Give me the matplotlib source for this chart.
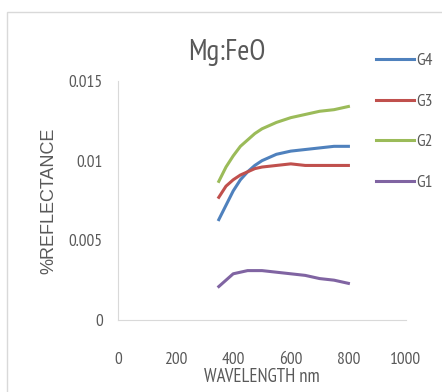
import matplotlib
matplotlib.use("Agg")
import matplotlib.pyplot as plt
from matplotlib.patches import Rectangle

wavelength = [350, 375, 400, 425, 450, 475, 500, 550, 600, 650, 700, 750, 800]
g4 = [0.0063, 0.0072, 0.0081, 0.0088, 0.0093, 0.0097, 0.0100, 0.0104, 0.0106, 0.0107, 0.0108, 0.0109, 0.0109]
g3 = [0.0077, 0.0084, 0.0088, 0.0091, 0.0093, 0.0095, 0.0096, 0.0097, 0.0098, 0.0097, 0.0097, 0.0097, 0.0097]
g2 = [0.0087, 0.0096, 0.0103, 0.0109, 0.0113, 0.0117, 0.0120, 0.0124, 0.0127, 0.0129, 0.0131, 0.0132, 0.0134]
g1 = [0.0021, 0.0025, 0.0029, 0.0030, 0.0031, 0.0031, 0.0031, 0.0030, 0.0029, 0.0028, 0.0026, 0.0025, 0.0023]
series_names = ["G4", "G3", "G2", "G1"]
x_ticks = [0, 200, 400, 600, 800, 1000]
y_ticks = [0, 0.005, 0.01, 0.015]
y_tick_labels = ["0", "0.005", "0.01", "0.015"]

narrow = ["PT Sans Narrow", "DejaVu Sans"]
wide = ["Liberation Sans", "DejaVu Sans"]
textc = "#595959"

colors = ["#4F81BD", "#C0504D", "#9BBB59", "#8064A2"]
W, H = 442, 392
fig = plt.figure(figsize=(W / 100, H / 100), dpi=100)
fig.patches.append(Rectangle((7 / W, -0.1), 1.2, 1 - 12 / H + 0.1, transform=fig.transFigure,
                             fill=False, edgecolor="#D9D9D9", linewidth=1))

ax = fig.add_axes([118 / W, 1 - 320 / H, (406 - 118) / W, (320 - 81) / H])
lines = []
for ys, c, n in zip([g4, g3, g2, g1], colors, series_names):
    ln, = ax.plot(wavelength, ys, color=c, linewidth=2.2, label=n)
    lines.append(ln)

ax.set_xlim(0, 1000)
ax.set_ylim(0, 0.015)
ax.set_xticks(x_ticks)
ax.set_yticks(y_ticks)
ax.set_yticklabels(y_tick_labels)
for s in ["top", "right"]:
    ax.spines[s].set_visible(False)
for s in ["left", "bottom"]:
    ax.spines[s].set_color("#D9D9D9")
ax.tick_params(length=0, labelcolor=textc, labelsize=12.5)
ax.tick_params(axis="y", pad=11)
ax.tick_params(axis="x", pad=23)
for lab in ax.get_xticklabels() + ax.get_yticklabels():
    lab.set_fontfamily(narrow)

fig.text(227 / W, 1 - 53 / H, "Mg:FeO", ha="center", va="center", fontsize=21,
         family=narrow, color=textc)
fig.text(262 / W, 1 - 377 / H, "WAVELENGTH nm", ha="center", va="center", fontsize=13.5,
         family=narrow, color=textc)
fig.text(49 / W, 1 - 201 / H, "%REFLECTANCE", ha="center", va="center", fontsize=13,
         rotation=90, family=wide, color=textc)

leg = fig.legend(handles=lines, labels=series_names, loc="upper left",
                 bbox_to_anchor=(360 / W, 1 - 37 / H), frameon=False,
                 handlelength=2.2, handletextpad=0.15, labelspacing=1.42,
                 prop={"family": narrow, "size": 12.5})
for t in leg.get_texts():
    t.set_color(textc)

fig.savefig("out.png", dpi=100)
